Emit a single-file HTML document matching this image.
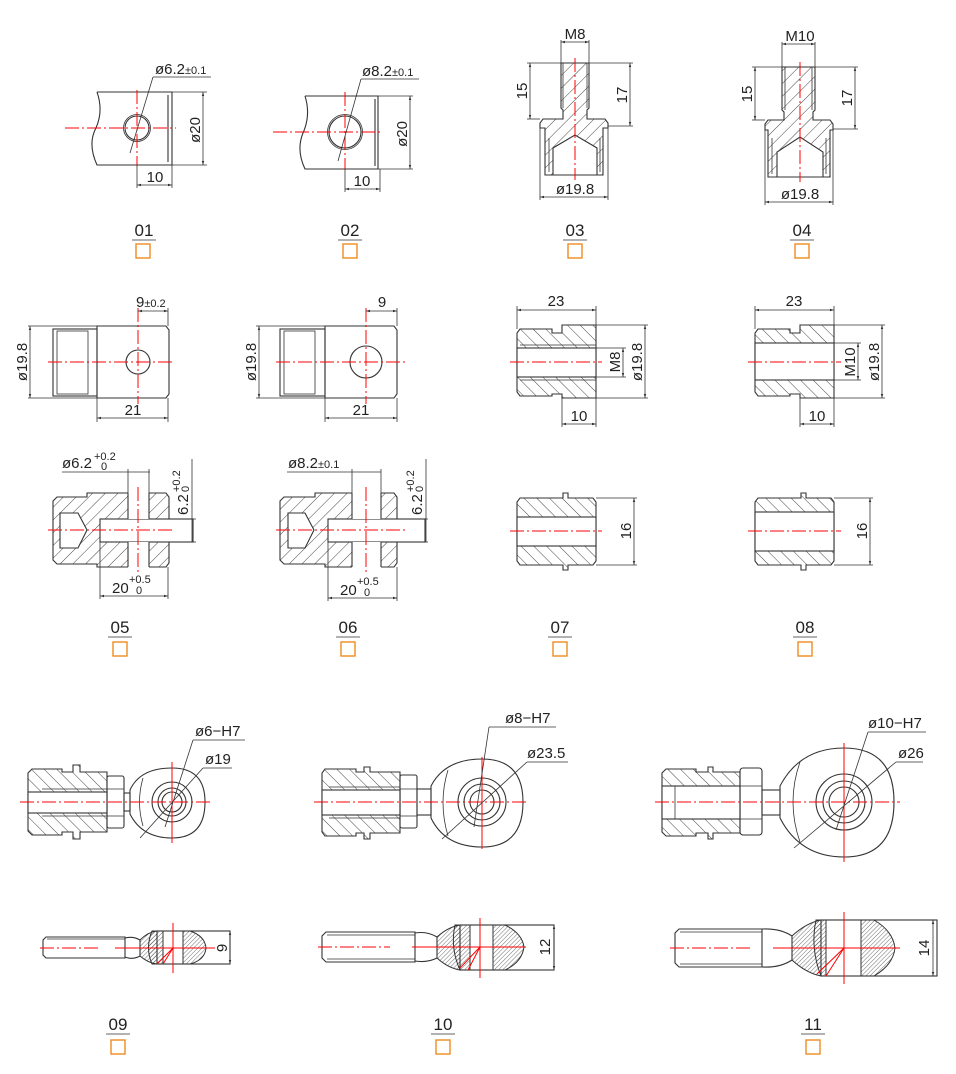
<!DOCTYPE html>
<html><head><meta charset="utf-8"><style>
html,body{margin:0;padding:0;background:#fff;}
svg{display:block;}
text{font-family:"Liberation Sans","DejaVu Sans",sans-serif;fill:#222;}
.o{fill:none;stroke:#333;stroke-width:1.1}
.d{fill:none;stroke:#333;stroke-width:0.8}
.c{fill:none;stroke:#f00;stroke-width:1;stroke-dasharray:14 3 2 3}
.r{fill:none;stroke:#f00;stroke-width:1}
.h{fill:url(#h);stroke:#333;stroke-width:1.1}
.g{fill:url(#g);stroke:#333;stroke-width:1.1}
.f{fill:url(#f);stroke:#333;stroke-width:1}
.w{fill:#fff;stroke:#333;stroke-width:1.1}
.sq{fill:none;stroke:#f08c1e;stroke-width:1.4}
.lb{font-size:17px}
.dt{font-size:15px}
.sm{font-size:11px}
</style></head><body>
<svg width="956" height="1074" viewBox="0 0 956 1074" xmlns="http://www.w3.org/2000/svg">
<defs>
<pattern id="h" width="9" height="9" patternUnits="userSpaceOnUse" patternTransform="rotate(45)"><line x1="0" y1="0" x2="0" y2="9" stroke="#333" stroke-width="0.9"/></pattern>
<pattern id="g" width="9" height="9" patternUnits="userSpaceOnUse" patternTransform="rotate(-45)"><line x1="0" y1="0" x2="0" y2="9" stroke="#333" stroke-width="0.9"/></pattern>
<pattern id="f" width="3" height="3" patternUnits="userSpaceOnUse" patternTransform="rotate(45)"><line x1="0" y1="0" x2="0" y2="3" stroke="#333" stroke-width="0.7"/></pattern>
<marker id="a" viewBox="0 0 10 10" refX="10" refY="5" markerWidth="7" markerHeight="5" orient="auto-start-reverse"><path d="M0,2 L10,5 L0,8 z" fill="#333"/></marker>
</defs>

<!-- ===== 01 ===== -->
<path class="o" d="M97,92 L172,92 L172,165 L97,165 Q88,145 95,130 Q104,112 97,92"/>
<line class="o" x1="168" y1="95" x2="168" y2="162"/>
<circle class="o" cx="137" cy="128" r="12"/><circle class="d" cx="137" cy="128" r="13.5"/>
<line class="c" x1="65" y1="128" x2="176" y2="128"/><line class="c" x1="137" y1="90" x2="137" y2="166"/>
<line class="d" x1="172" y1="92" x2="207" y2="92"/><line class="d" x1="172" y1="165" x2="207" y2="165"/>
<line class="d" x1="203" y1="92" x2="203" y2="165" marker-start="url(#a)" marker-end="url(#a)"/>
<text class="dt" transform="translate(200,130) rotate(-90)" text-anchor="middle">ø20</text>
<line class="d" x1="137" y1="165" x2="137" y2="188"/><line class="d" x1="172" y1="165" x2="172" y2="188"/>
<line class="d" x1="137" y1="185" x2="172" y2="185" marker-start="url(#a)" marker-end="url(#a)"/>
<text class="dt" x="155" y="182" text-anchor="middle">10</text>
<line class="d" x1="130" y1="153" x2="153" y2="77"/><line class="d" x1="153" y1="77" x2="211" y2="77"/>
<text class="dt" x="155" y="74">ø6.2<tspan class="sm">±0.1</tspan></text>
<text class="lb" x="144" y="236" text-anchor="middle">01</text><line class="d" x1="132" y1="240" x2="156" y2="240"/>
<rect class="sq" x="136" y="244" width="14" height="14"/>

<!-- ===== 02 ===== -->
<path class="o" d="M305,96 L378,96 L378,169 L305,169 Q296,150 303,133 Q311,115 305,96"/>
<line class="o" x1="375" y1="99" x2="375" y2="166"/>
<circle class="o" cx="345" cy="132" r="16"/><circle class="d" cx="345" cy="132" r="17.5"/>
<line class="c" x1="273" y1="132" x2="383" y2="132"/><line class="c" x1="345" y1="92" x2="345" y2="170"/>
<line class="d" x1="378" y1="96" x2="413" y2="96"/><line class="d" x1="378" y1="169" x2="413" y2="169"/>
<line class="d" x1="410" y1="96" x2="410" y2="169" marker-start="url(#a)" marker-end="url(#a)"/>
<text class="dt" transform="translate(407,134) rotate(-90)" text-anchor="middle">ø20</text>
<line class="d" x1="345" y1="169" x2="345" y2="192"/><line class="d" x1="380" y1="169" x2="380" y2="192"/>
<line class="d" x1="345" y1="189" x2="380" y2="189" marker-start="url(#a)" marker-end="url(#a)"/>
<text class="dt" x="362" y="186" text-anchor="middle">10</text>
<line class="d" x1="338" y1="161" x2="361" y2="79"/><line class="d" x1="361" y1="79" x2="419" y2="79"/>
<text class="dt" x="362" y="76">ø8.2<tspan class="sm">±0.1</tspan></text>
<text class="lb" x="350" y="236" text-anchor="middle">02</text><line class="d" x1="338" y1="240" x2="362" y2="240"/>
<rect class="sq" x="343" y="244" width="14" height="14"/>

<!-- ===== 03 ===== -->
<path class="h" d="M561,63 L589,63 L589,108 L587,110 L587,119 L605,119 L608,123 L608,128 L603,128 L603,175 L545,175 L545,128 L540,128 L540,123 L543,119 L563,119 L563,110 L561,108 Z"/>
<path class="w" d="M553,175 L553,148 L575,135 L597,148 L597,175 Z"/>
<line class="d" x1="563" y1="63" x2="563" y2="108"/><line class="d" x1="587" y1="63" x2="587" y2="108"/>
<line class="d" x1="549" y1="138" x2="549" y2="172"/><line class="d" x1="600" y1="138" x2="600" y2="172"/>
<line class="c" x1="575" y1="58" x2="575" y2="180"/>
<line class="d" x1="561" y1="40" x2="561" y2="63"/><line class="d" x1="589" y1="40" x2="589" y2="63"/>
<line class="d" x1="561" y1="42" x2="589" y2="42" marker-start="url(#a)" marker-end="url(#a)"/>
<text class="dt" x="575" y="39" text-anchor="middle">M8</text>
<line class="d" x1="527" y1="63" x2="633" y2="63"/><line class="d" x1="527" y1="119" x2="540" y2="119"/><line class="d" x1="608" y1="126" x2="633" y2="126"/>
<line class="d" x1="530" y1="63" x2="530" y2="119" marker-start="url(#a)" marker-end="url(#a)"/>
<text class="dt" transform="translate(527,91) rotate(-90)" text-anchor="middle">15</text>
<line class="d" x1="630" y1="63" x2="630" y2="126" marker-start="url(#a)" marker-end="url(#a)"/>
<text class="dt" transform="translate(627,95) rotate(-90)" text-anchor="middle">17</text>
<line class="d" x1="540" y1="128" x2="540" y2="200"/><line class="d" x1="608" y1="128" x2="608" y2="200"/>
<line class="d" x1="540" y1="197" x2="608" y2="197" marker-start="url(#a)" marker-end="url(#a)"/>
<text class="dt" x="575" y="194" text-anchor="middle">ø19.8</text>
<text class="lb" x="575" y="236" text-anchor="middle">03</text><line class="d" x1="563" y1="240" x2="587" y2="240"/>
<rect class="sq" x="568" y="244" width="14" height="14"/>

<!-- ===== 04 ===== -->
<path class="h" d="M782,67 L815,67 L815,110 L813,112 L813,120 L830,120 L833,124 L833,130 L830,130 L830,177 L768,177 L768,130 L765,130 L765,124 L768,120 L784,120 L784,112 L782,110 Z"/>
<path class="w" d="M777,177 L777,152 L800,137 L823,152 L823,177 Z"/>
<line class="d" x1="785" y1="67" x2="785" y2="110"/><line class="d" x1="812" y1="67" x2="812" y2="110"/>
<line class="d" x1="772" y1="138" x2="772" y2="174"/><line class="d" x1="826" y1="138" x2="826" y2="174"/>
<line class="c" x1="800" y1="62" x2="800" y2="182"/>
<line class="d" x1="782" y1="42" x2="782" y2="67"/><line class="d" x1="815" y1="42" x2="815" y2="67"/>
<line class="d" x1="782" y1="44" x2="815" y2="44" marker-start="url(#a)" marker-end="url(#a)"/>
<text class="dt" x="800" y="41" text-anchor="middle">M10</text>
<line class="d" x1="752" y1="67" x2="858" y2="67"/><line class="d" x1="752" y1="120" x2="765" y2="120"/><line class="d" x1="833" y1="129" x2="858" y2="129"/>
<line class="d" x1="755" y1="67" x2="755" y2="120" marker-start="url(#a)" marker-end="url(#a)"/>
<text class="dt" transform="translate(752,94) rotate(-90)" text-anchor="middle">15</text>
<line class="d" x1="855" y1="67" x2="855" y2="129" marker-start="url(#a)" marker-end="url(#a)"/>
<text class="dt" transform="translate(852,98) rotate(-90)" text-anchor="middle">17</text>
<line class="d" x1="765" y1="130" x2="765" y2="205"/><line class="d" x1="833" y1="130" x2="833" y2="205"/>
<line class="d" x1="765" y1="202" x2="833" y2="202" marker-start="url(#a)" marker-end="url(#a)"/>
<text class="dt" x="800" y="199" text-anchor="middle">ø19.8</text>
<text class="lb" x="802" y="236" text-anchor="middle">04</text><line class="d" x1="790" y1="240" x2="814" y2="240"/>
<rect class="sq" x="795" y="244" width="14" height="14"/>

<!-- ===== 05 top ===== -->
<rect class="o" x="53" y="329" width="44" height="67"/>
<rect class="d" x="57" y="331" width="31" height="63"/>
<path class="o" d="M97,326 L166,326 L169,330 L169,394 L166,398 L97,398 Z"/>
<circle class="o" cx="138" cy="362" r="12"/>
<line class="c" x1="48" y1="362" x2="174" y2="362"/><line class="c" x1="138" y1="308" x2="138" y2="404"/>
<line class="d" x1="28" y1="326" x2="97" y2="326"/><line class="d" x1="28" y1="398" x2="97" y2="398"/>
<line class="d" x1="30" y1="326" x2="30" y2="398" marker-start="url(#a)" marker-end="url(#a)"/>
<text class="dt" transform="translate(27,362) rotate(-90)" text-anchor="middle">ø19.8</text>
<line class="d" x1="168" y1="308" x2="168" y2="326"/>
<line class="d" x1="138" y1="311" x2="168" y2="311" marker-start="url(#a)" marker-end="url(#a)"/>
<text class="dt" x="136" y="307">9<tspan class="sm">±0.2</tspan></text>
<line class="d" x1="97" y1="398" x2="97" y2="422"/><line class="d" x1="168" y1="398" x2="168" y2="422"/>
<line class="d" x1="97" y1="418" x2="168" y2="418" marker-start="url(#a)" marker-end="url(#a)"/>
<text class="dt" x="133" y="415" text-anchor="middle">21</text>

<!-- ===== 05 section ===== -->
<path class="h" d="M53,501 L57,497 L87,497 L87,493 L166,493 L169,497 L169,563 L166,567 L97,567 L97,564 L57,564 L53,560 Z"/>
<path class="w" d="M60,513 L78,513 L87,530 L78,548 L60,548 Z"/>
<rect class="w" x="100" y="519" width="93" height="23"/>
<path fill="#fff" stroke="none" d="M128,492 L149,492 L149,519 L128,519 Z M128,542 L149,542 L149,568 L128,568 Z"/>
<line class="o" x1="128" y1="493" x2="128" y2="519"/><line class="o" x1="149" y1="493" x2="149" y2="519"/>
<line class="o" x1="128" y1="542" x2="128" y2="567"/><line class="o" x1="149" y1="542" x2="149" y2="567"/>
<line class="c" x1="48" y1="530" x2="175" y2="530"/><line class="c" x1="138" y1="487" x2="138" y2="575"/>
<line class="d" x1="62" y1="472" x2="150" y2="472"/><line class="d" x1="128" y1="469" x2="128" y2="493"/><line class="d" x1="149" y1="469" x2="149" y2="493"/>
<text class="dt" x="62" y="468">ø6.2</text><text class="sm" x="94" y="460">+0.2</text><text class="sm" x="101" y="470">0</text>
<line class="d" x1="169" y1="519" x2="196" y2="519"/><line class="d" x1="193" y1="542" x2="196" y2="542"/>
<line class="d" x1="192" y1="459" x2="192" y2="542"/>
<text class="dt" transform="translate(188,515) rotate(-90)">6.2</text>
<text class="sm" transform="translate(180,492) rotate(-90)">+0.2</text><text class="sm" transform="translate(189,492) rotate(-90)">0</text>
<line class="d" x1="100" y1="542" x2="100" y2="599"/><line class="d" x1="168" y1="567" x2="168" y2="599"/>
<line class="d" x1="100" y1="596" x2="168" y2="596" marker-start="url(#a)" marker-end="url(#a)"/>
<text class="dt" x="112" y="593">20</text><text class="sm" x="129" y="583">+0.5</text><text class="sm" x="136" y="594">0</text>
<text class="lb" x="120" y="633" text-anchor="middle">05</text><line class="d" x1="108" y1="637" x2="132" y2="637"/>
<rect class="sq" x="113" y="642" width="14" height="14"/>

<!-- ===== 06 top ===== -->
<rect class="o" x="280" y="329" width="45" height="67"/>
<rect class="d" x="284" y="331" width="31" height="63"/>
<path class="o" d="M325,326 L394,326 L397,330 L397,394 L394,398 L325,398 Z"/>
<circle class="o" cx="366" cy="362" r="16"/>
<line class="c" x1="276" y1="362" x2="405" y2="362"/><line class="c" x1="366" y1="308" x2="366" y2="404"/>
<line class="d" x1="256" y1="326" x2="325" y2="326"/><line class="d" x1="256" y1="398" x2="325" y2="398"/>
<line class="d" x1="259" y1="326" x2="259" y2="398" marker-start="url(#a)" marker-end="url(#a)"/>
<text class="dt" transform="translate(256,362) rotate(-90)" text-anchor="middle">ø19.8</text>
<line class="d" x1="397" y1="308" x2="397" y2="326"/>
<line class="d" x1="366" y1="311" x2="397" y2="311" marker-start="url(#a)" marker-end="url(#a)"/>
<text class="dt" x="382" y="307" text-anchor="middle">9</text>
<line class="d" x1="325" y1="398" x2="325" y2="422"/><line class="d" x1="397" y1="398" x2="397" y2="422"/>
<line class="d" x1="325" y1="418" x2="397" y2="418" marker-start="url(#a)" marker-end="url(#a)"/>
<text class="dt" x="361" y="415" text-anchor="middle">21</text>

<!-- ===== 06 section ===== -->
<path class="h" d="M280,501 L284,497 L315,497 L315,493 L394,493 L397,497 L397,563 L394,567 L325,567 L325,564 L284,564 L280,560 Z"/>
<path class="w" d="M288,513 L305,513 L314,530 L305,548 L288,548 Z"/>
<rect class="w" x="328" y="519" width="97" height="23"/>
<path fill="#fff" stroke="none" d="M352,492 L381,492 L381,519 L352,519 Z M352,542 L381,542 L381,568 L352,568 Z"/>
<line class="o" x1="352" y1="493" x2="352" y2="519"/><line class="o" x1="381" y1="493" x2="381" y2="519"/>
<line class="o" x1="352" y1="542" x2="352" y2="567"/><line class="o" x1="381" y1="542" x2="381" y2="567"/>
<line class="c" x1="276" y1="530" x2="405" y2="530"/><line class="c" x1="366" y1="487" x2="366" y2="575"/>
<line class="d" x1="287" y1="472" x2="381" y2="472"/><line class="d" x1="352" y1="469" x2="352" y2="493"/><line class="d" x1="381" y1="469" x2="381" y2="493"/>
<text class="dt" x="288" y="468">ø8.2<tspan class="sm">±0.1</tspan></text>
<line class="d" x1="397" y1="519" x2="428" y2="519"/><line class="d" x1="425" y1="542" x2="428" y2="542"/>
<line class="d" x1="426" y1="459" x2="426" y2="542"/>
<text class="dt" transform="translate(422,515) rotate(-90)">6.2</text>
<text class="sm" transform="translate(414,492) rotate(-90)">+0.2</text><text class="sm" transform="translate(423,492) rotate(-90)">0</text>
<line class="d" x1="328" y1="542" x2="328" y2="601"/><line class="d" x1="397" y1="567" x2="397" y2="601"/>
<line class="d" x1="328" y1="598" x2="397" y2="598" marker-start="url(#a)" marker-end="url(#a)"/>
<text class="dt" x="340" y="595">20</text><text class="sm" x="357" y="585">+0.5</text><text class="sm" x="364" y="596">0</text>
<text class="lb" x="348" y="633" text-anchor="middle">06</text><line class="d" x1="336" y1="637" x2="360" y2="637"/>
<rect class="sq" x="341" y="642" width="14" height="14"/>

<!-- ===== 07 top ===== -->
<path class="g" d="M520,329 L552,329 L552,333 L562,333 L562,325 L596,325 L596,398 L562,398 L562,394 L552,394 L552,396 L520,396 L517,392 L517,333 Z"/>
<rect class="w" x="517" y="348" width="79" height="29"/>
<line class="d" x1="520" y1="345" x2="596" y2="345"/><line class="d" x1="520" y1="380" x2="596" y2="380"/>
<line class="c" x1="510" y1="362" x2="602" y2="362"/>
<line class="d" x1="517" y1="306" x2="517" y2="329"/><line class="d" x1="596" y1="306" x2="596" y2="325"/>
<line class="d" x1="517" y1="310" x2="596" y2="310" marker-start="url(#a)" marker-end="url(#a)"/>
<text class="dt" x="556" y="306" text-anchor="middle">23</text>
<line class="d" x1="596" y1="348" x2="626" y2="348"/><line class="d" x1="596" y1="377" x2="626" y2="377"/>
<line class="d" x1="623" y1="348" x2="623" y2="377" marker-start="url(#a)" marker-end="url(#a)"/>
<text class="dt" transform="translate(620,362) rotate(-90)" text-anchor="middle">M8</text>
<line class="d" x1="596" y1="325" x2="648" y2="325"/><line class="d" x1="596" y1="398" x2="648" y2="398"/>
<line class="d" x1="645" y1="325" x2="645" y2="398" marker-start="url(#a)" marker-end="url(#a)"/>
<text class="dt" transform="translate(642,362) rotate(-90)" text-anchor="middle">ø19.8</text>
<line class="d" x1="562" y1="398" x2="562" y2="427"/><line class="d" x1="596" y1="398" x2="596" y2="427"/>
<line class="d" x1="562" y1="424" x2="596" y2="424" marker-start="url(#a)" marker-end="url(#a)"/>
<text class="dt" x="579" y="421" text-anchor="middle">10</text>

<!-- ===== 07 bottom ===== -->
<path class="g" d="M520,498 L563,498 L563,493 L568,493 L568,498 L593,498 L596,502 L596,561 L593,565 L568,565 L568,570 L563,570 L563,565 L520,565 L517,561 L517,502 Z"/>
<rect class="w" x="517" y="517" width="79" height="29"/>
<line class="c" x1="510" y1="531" x2="602" y2="531"/>
<line class="d" x1="596" y1="498" x2="637" y2="498"/><line class="d" x1="596" y1="565" x2="637" y2="565"/>
<line class="d" x1="634" y1="498" x2="634" y2="565" marker-start="url(#a)" marker-end="url(#a)"/>
<text class="dt" transform="translate(631,531) rotate(-90)" text-anchor="middle">16</text>
<text class="lb" x="560" y="633" text-anchor="middle">07</text><line class="d" x1="548" y1="637" x2="572" y2="637"/>
<rect class="sq" x="553" y="642" width="14" height="14"/>

<!-- ===== 08 top ===== -->
<path class="g" d="M758,329 L790,329 L790,333 L800,333 L800,325 L834,325 L834,398 L800,398 L800,394 L790,394 L790,396 L758,396 L755,392 L755,333 Z"/>
<rect class="w" x="755" y="343" width="79" height="37"/>
<line class="c" x1="748" y1="362" x2="841" y2="362"/>
<line class="d" x1="755" y1="306" x2="755" y2="329"/><line class="d" x1="834" y1="306" x2="834" y2="325"/>
<line class="d" x1="755" y1="310" x2="834" y2="310" marker-start="url(#a)" marker-end="url(#a)"/>
<text class="dt" x="794" y="306" text-anchor="middle">23</text>
<line class="d" x1="834" y1="343" x2="861" y2="343"/><line class="d" x1="834" y1="380" x2="861" y2="380"/>
<line class="d" x1="858" y1="343" x2="858" y2="380" marker-start="url(#a)" marker-end="url(#a)"/>
<text class="dt" transform="translate(855,362) rotate(-90)" text-anchor="middle">M10</text>
<line class="d" x1="834" y1="325" x2="885" y2="325"/><line class="d" x1="834" y1="398" x2="885" y2="398"/>
<line class="d" x1="882" y1="325" x2="882" y2="398" marker-start="url(#a)" marker-end="url(#a)"/>
<text class="dt" transform="translate(879,362) rotate(-90)" text-anchor="middle">ø19.8</text>
<line class="d" x1="800" y1="398" x2="800" y2="427"/><line class="d" x1="834" y1="398" x2="834" y2="427"/>
<line class="d" x1="800" y1="424" x2="834" y2="424" marker-start="url(#a)" marker-end="url(#a)"/>
<text class="dt" x="817" y="421" text-anchor="middle">10</text>

<!-- ===== 08 bottom ===== -->
<path class="g" d="M758,498 L801,498 L801,493 L806,493 L806,498 L831,498 L834,502 L834,561 L831,565 L806,565 L806,570 L801,570 L801,565 L758,565 L755,561 L755,502 Z"/>
<rect class="w" x="755" y="512" width="79" height="39"/>
<line class="c" x1="748" y1="531" x2="841" y2="531"/>
<line class="d" x1="834" y1="498" x2="873" y2="498"/><line class="d" x1="834" y1="565" x2="873" y2="565"/>
<line class="d" x1="870" y1="498" x2="870" y2="565" marker-start="url(#a)" marker-end="url(#a)"/>
<text class="dt" transform="translate(867,531) rotate(-90)" text-anchor="middle">16</text>
<text class="lb" x="805" y="633" text-anchor="middle">08</text><line class="d" x1="793" y1="637" x2="817" y2="637"/>
<rect class="sq" x="798" y="642" width="14" height="14"/>

<!-- ===== 09 top ===== -->
<path class="g" d="M32,769 L62,769 L62,772 L73,772 L73,765 L80,765 L80,772 L107,772 L107,832 L80,832 L80,839 L73,839 L73,832 L62,832 L62,835 L32,835 L28,831 L28,773 Z"/>
<rect class="w" x="28" y="792" width="79" height="21"/>
<line class="d" x1="42" y1="789" x2="107" y2="789"/><line class="d" x1="42" y1="816" x2="107" y2="816"/>
<rect class="o" x="107" y="776" width="17" height="52" rx="2"/>
<line class="d" x1="107" y1="789" x2="124" y2="789"/><line class="d" x1="107" y1="816" x2="124" y2="816"/>
<rect class="o" x="124" y="793" width="6" height="18"/>
<path class="o" d="M130,790 Q140,768 172,768 Q205,768 205,802 Q205,838 172,838 Q142,838 130,814 Z"/>
<circle class="o" cx="172" cy="802" r="20"/><circle class="o" cx="172" cy="802" r="14"/><circle class="o" cx="172" cy="802" r="10"/>
<path class="d" d="M143,778 Q136,802 143,826"/>
<line class="c" x1="20" y1="802" x2="213" y2="802"/><line class="r" x1="172" y1="762" x2="172" y2="843"/>
<line class="d" x1="165" y1="827" x2="193" y2="740"/><line class="d" x1="193" y1="740" x2="245" y2="740"/>
<text class="dt" x="195" y="736">ø6−H7</text>
<line class="d" x1="140" y1="838" x2="203" y2="768"/><line class="d" x1="203" y1="768" x2="232" y2="768"/>
<text class="dt" x="205" y="764">ø19</text>

<!-- ===== 09 side ===== -->
<path class="o" d="M46,937 L125,937 L125,958 L46,958 L43,955 L43,940 Z"/>
<line class="d" x1="47" y1="939" x2="125" y2="939"/>
<path class="o" d="M125,938 Q133,936 140,940 L140,956 Q133,960 125,957"/>
<path class="f" d="M140,940 Q148,932 157,931 L157,964 Q148,963 140,956 Z"/>
<path class="f" d="M152,931 L163,931 L163,964 L152,964 Q145,948 152,931 Z"/>
<rect class="o" x="157" y="931" width="73" height="33"/>
<path class="f" d="M183,931 L190,931 Q205,936 206,948 Q205,960 190,964 L183,964 Z"/>
<line class="c" x1="40" y1="948" x2="100" y2="948"/><line class="r" x1="115" y1="948" x2="215" y2="948"/>
<line class="r" x1="173" y1="923" x2="173" y2="973"/>
<line class="r" x1="173" y1="948" x2="157" y2="964"/><line class="r" x1="173" y1="948" x2="163" y2="964"/>
<line class="d" x1="230" y1="931" x2="230" y2="964" marker-start="url(#a)" marker-end="url(#a)"/>
<text class="dt" transform="translate(227,948) rotate(-90)" text-anchor="middle">9</text>
<text class="lb" x="118" y="1030" text-anchor="middle">09</text><line class="d" x1="106" y1="1034" x2="130" y2="1034"/>
<rect class="sq" x="111" y="1040" width="14" height="14"/>

<!-- ===== 10 top ===== -->
<path class="g" d="M325,769 L356,769 L356,772 L364,772 L364,767 L370,767 L370,772 L400,772 L400,833 L370,833 L370,839 L364,839 L364,833 L356,833 L356,836 L325,836 L322,832 L322,773 Z"/>
<rect class="w" x="322" y="790" width="78" height="25"/>
<line class="d" x1="329" y1="787" x2="400" y2="787"/><line class="d" x1="329" y1="818" x2="400" y2="818"/>
<rect class="o" x="400" y="775" width="17" height="53" rx="2"/>
<line class="d" x1="400" y1="789" x2="417" y2="789"/><line class="d" x1="400" y1="816" x2="417" y2="816"/>
<rect class="o" x="417" y="789" width="14" height="26"/>
<path class="o" d="M431,786 Q445,759 482,759 Q523,759 523,802 Q523,847 482,847 Q445,847 431,818 Z"/>
<path class="d" d="M448,770 Q438,802 448,836"/>
<circle class="o" cx="482" cy="802" r="24"/><circle class="o" cx="482" cy="802" r="18"/><circle class="o" cx="482" cy="802" r="12"/>
<line class="c" x1="314" y1="802" x2="528" y2="802"/><line class="r" x1="482" y1="757" x2="482" y2="849"/>
<line class="d" x1="474" y1="827" x2="489" y2="727"/><line class="d" x1="489" y1="727" x2="556" y2="727"/>
<text class="dt" x="505" y="723">ø8−H7</text>
<line class="d" x1="442" y1="839" x2="527" y2="762"/><line class="d" x1="527" y1="762" x2="568" y2="762"/>
<text class="dt" x="527" y="758">ø23.5</text>

<!-- ===== 10 side ===== -->
<path class="o" d="M326,932 L415,932 L415,962 L326,962 L322,958 L322,936 Z"/>
<line class="d" x1="327" y1="935" x2="415" y2="935"/><line class="d" x1="327" y1="959" x2="415" y2="959"/>
<path class="o" d="M415,933 Q427,931 437,937 L437,958 Q427,963 415,961"/>
<path class="f" d="M437,937 Q448,927 460,925 L460,970 Q448,968 437,958 Z"/>
<path class="f" d="M455,925 L470,925 L470,970 L460,970 Q450,948 455,925 Z"/>
<rect class="o" x="460" y="925" width="94" height="45"/>
<path class="f" d="M493,925 L505,925 Q522,933 524,947 Q522,962 505,970 L493,970 Z"/>
<line class="c" x1="318" y1="947" x2="390" y2="947"/><line class="r" x1="412" y1="947" x2="526" y2="947"/>
<line class="r" x1="480" y1="918" x2="480" y2="978"/>
<line class="r" x1="480" y1="947" x2="460" y2="968"/><line class="r" x1="480" y1="947" x2="468" y2="970"/>
<line class="d" x1="554" y1="925" x2="554" y2="970" marker-start="url(#a)" marker-end="url(#a)"/>
<text class="dt" transform="translate(550,947) rotate(-90)" text-anchor="middle">12</text>
<text class="lb" x="443" y="1030" text-anchor="middle">10</text><line class="d" x1="431" y1="1034" x2="455" y2="1034"/>
<rect class="sq" x="436" y="1040" width="14" height="14"/>

<!-- ===== 11 top ===== -->
<path class="g" d="M666,769 L696,769 L696,772 L708,772 L708,767 L713,767 L713,772 L740,772 L740,833 L713,833 L713,839 L708,839 L708,833 L696,833 L696,836 L666,836 L662,832 L662,773 Z"/>
<rect class="w" x="662" y="786" width="78" height="33"/>
<line class="d" x1="675" y1="786" x2="675" y2="819"/>
<rect class="o" x="740" y="768" width="22" height="67" rx="3"/>
<line class="d" x1="740" y1="786" x2="762" y2="786"/><line class="d" x1="740" y1="819" x2="762" y2="819"/>
<rect class="o" x="762" y="790" width="18" height="25"/>
<path class="o" d="M780,786 Q800,748 844,748 Q894,748 894,802 Q894,857 844,857 Q800,857 780,818 Z"/>
<path class="d" d="M800,762 Q786,802 800,842"/>
<circle class="o" cx="844" cy="802" r="28"/><circle class="o" cx="844" cy="802" r="21"/><circle class="o" cx="844" cy="802" r="15"/>
<line class="c" x1="655" y1="802" x2="900" y2="802"/><line class="r" x1="844" y1="743" x2="844" y2="862"/>
<line class="d" x1="836" y1="830" x2="868" y2="732"/><line class="d" x1="868" y1="732" x2="926" y2="732"/>
<text class="dt" x="868" y="728">ø10−H7</text>
<line class="d" x1="794" y1="848" x2="896" y2="762"/><line class="d" x1="896" y1="762" x2="923" y2="762"/>
<text class="dt" x="898" y="758">ø26</text>

<!-- ===== 11 side ===== -->
<path class="o" d="M679,929 L762,929 L762,967 L679,967 L675,963 L675,933 Z"/>
<line class="d" x1="680" y1="932" x2="762" y2="932"/><line class="d" x1="680" y1="964" x2="762" y2="964"/>
<path class="o" d="M762,929 Q780,928 792,936 L792,960 Q780,968 762,967"/>
<path class="f" d="M792,936 Q806,923 821,920 L821,976 Q806,973 792,960 Z"/>
<path class="f" d="M816,920 L826,920 L826,976 L821,976 Q810,948 816,920 Z"/>
<rect class="o" x="821" y="920" width="116" height="56"/>
<path class="f" d="M861,920 L874,920 Q893,931 895,948 Q893,965 874,976 L861,976 Z"/>
<line class="c" x1="670" y1="948" x2="753" y2="948"/><line class="r" x1="773" y1="948" x2="900" y2="948"/>
<line class="r" x1="844" y1="912" x2="844" y2="984"/>
<line class="r" x1="844" y1="948" x2="817" y2="974"/><line class="r" x1="844" y1="948" x2="826" y2="976"/>
<line class="d" x1="933" y1="920" x2="933" y2="976" marker-start="url(#a)" marker-end="url(#a)"/>
<text class="dt" transform="translate(929,948) rotate(-90)" text-anchor="middle">14</text>
<text class="lb" x="813" y="1030" text-anchor="middle">11</text><line class="d" x1="801" y1="1034" x2="825" y2="1034"/>
<rect class="sq" x="806" y="1040" width="14" height="14"/>
</svg>
</body></html>
